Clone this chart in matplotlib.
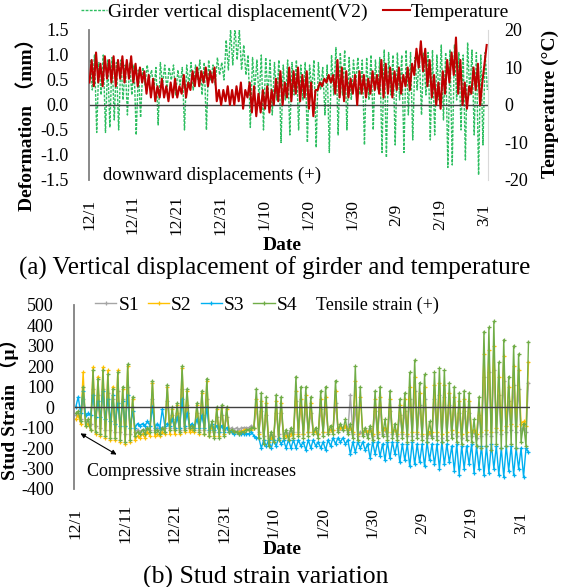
import numpy as np
import matplotlib
matplotlib.use("Agg")
import matplotlib.pyplot as plt

plt.rcParams['font.family'] = ['Liberation Serif', 'Noto Sans CJK SC']
plt.rcParams['axes.unicode_minus'] = False

# %%
# (a) girder displacement (mm) and temperature (degC), one high / one low per day, day 0 = 12/1
disp_high = [0.9, 1.0, 0.85, 1.0, 0.9, 0.95, 0.85, 0.9, 0.8, 0.85, 0.8,
             0.7, 0.75, 0.8, 0.7, 0.75, 0.85, 0.8, 0.75, 0.8, 0.7,
             0.75, 0.8, 0.85, 0.8, 0.9, 0.85, 0.9, 0.8, 0.95, 0.85,
             1.3, 1.5, 1.55, 1.5, 1.2, 1.0,
             0.95, 0.9, 1.0, 0.95, 0.9, 0.85, 0.9, 0.8, 0.9, 0.85, 0.9, 0.8, 0.85, 0.8,
             0.9, 0.85, 0.75, 0.8, 1.0, 1.15, 1.05, 1.1, 0.95, 0.9,
             0.95, 0.9, 0.95, 1.0, 0.9, 0.95, 1.1, 1.05, 1.0, 1.05,
             1.0, 1.1, 1.05, 0.95, 1.0, 1.05, 1.05, 1.1, 1.0, 1.2,
             1.05, 1.1, 1.2, 1.05, 1.0, 1.25, 1.1, 1.05, 1.0, 1.05]
disp_low = [0.3, -0.55, 0.2, -0.55, -0.45, -0.3, -0.5, 0.1, -0.2, 0.2, -0.6,
            -0.25, 0.4, 0.5, 0.3, -0.4, 0.4, 0.3, 0.5, 0.2, 0.4,
            -0.5, 0.4, 0.3, 0.5, 0.2, -0.5, 0.5, 0.4, 0.6, 0.5,
            0.7, 0.8, 0.9, 0.7, 0.6, -0.45,
            0.3, 0.1, -0.5, 0.2, -0.2, 0.1, -0.75, 0.1, -0.6, 0.2, -0.5, 0.1, -0.75, 0.3,
            -0.85, 0.3, -0.2, -0.95, 0.2, -0.6, 0.2, -0.5, 0.1, 0.4,
            0.2, -0.8, 0.1, -0.5, 0.3, -0.95, -1.05, 0.2, -0.8, 0.1,
            -0.95, -0.2, -0.7, 0.3, -0.2, 0.2, -0.7, -0.6, 0.1, -0.3,
            -1.25, -1.2, 0.1, -0.5, -1.1, 0.2, -0.6, -1.4, -0.8, 0.3]
temp_high = [12, 14, 11, 13, 12, 13, 12, 13, 12, 13, 11,
             10, 9, 8, 7, 5, 7, 5, 6, 7, 5,
             8, 6, 9, 10, 9, 10, 9, 10, 4, 4,
             5, 4, 5, 6, 4, 6,
             5, 3, 4, 5, 4, 7, 9, 6, 10, 9, 10, 8, 9, 6,
             4, 6, 7, 8, 8, 12, 10, 9, 7, 8,
             9, 8, 7, 9, 8, 12, 11, 10, 9, 10,
             8, 10, 11, 15, 17, 15, 12, 8, 6, 9,
             12, 14, 18, 12, 6, 5, 10, 11, 6, 16]
temp_low = [6, 5, 6, 5, 7, 6, 5, 7, 6, 7, 6,
            5, 6, 3, 2, 1, 2, 2, 1, 2, 2,
            3, 2, 4, 5, 5, 6, 5, 6, 1, 0,
            1, 0, 0, 1, -1, 2,
            -2, -3, -2, -1, -2, 0, 1, 0, 2, 1, 3, 1, 2, -1,
            -3, 4, 5, 6, 6, 3, 2, 1, 2, 3,
            0, 3, 2, 3, 4, 3, 2, 3, 2, 4,
            3, 5, 4, 8, 10, 9, 5, 2, 0, -1,
            3, 6, 8, 3, 0, -1, 3, 4, 0, 11]

# (b) stud strain, daily base value and daily spike value (με)
s1_base = [-40, -60, -70, -80, -90, -100, -110, -110, -120, -120, -130, -130, -120, -120, -110, -110,
           -110, -110, -100, -100, -100, -110, -100, -100, -100, -110, -110, -120, -120, -120, -110, -110,
           -110, -110, -100, -100, -100, -120, -140, -150, -140, -130, -130, -130, -120, -120, -130, -120,
           -120, -130, -120, -120, -110, -110, -110, -120, -130, -140, -130, -130, -140, -130, -130, -140,
           -130, -140, -130, -140, -140, -130, -140, -150, -140, -140, -150, -140, -130, -140, -150, -140,
           -140, -150, -140, -130, -140, -120, -130, -120, -110, -120, -110, -120]
s1_peak = [-30, 40, -60, 90, 60, 90, 70, 40, 80, 40, 100, 0, -110, -110, -100, 40,
           -100, -100, 30, -40, -30, 90, 10, -90, -30, 0, 40, -90, -50, -40, -50, -100,
           -100, -100, -100, -90, 0, -20, -40, -130, -30, -30, -120, -110, 30, 0, 0, -30,
           -110, -10, 0, -110, 20, -100, -90, 60, 0, -120, -110, -100, -20, 0, -110, -20,
           -110, -40, -20, 40, 80, 10, 40, -130, 40, 60, 50, 10, 0, -30, -20, -30,
           -120, -40, 150, 170, 180, 60, 130, 30, 110, 90, -100, 120]
s2_base = [-60, -80, -90, -110, -130, -140, -150, -160, -160, -170, -180, -170, -160, -150, -150, -140,
           -140, -140, -130, -130, -130, -130, -120, -120, -120, -130, -130, -140, -140, -140, -130, -120,
           -120, -120, -110, -110, -100, -130, -160, -170, -160, -150, -140, -140, -130, -130, -130, -120,
           -120, -130, -120, -120, -110, -100, -100, -110, -120, -130, -120, -120, -130, -120, -110, -120,
           -120, -130, -120, -130, -120, -120, -130, -130, -120, -120, -130, -120, -110, -120, -130, -120,
           -120, -130, -120, -110, -120, -100, -110, -90, -80, -90, -80, -90]
s2_peak = [-40, 170, -80, 195, 150, 195, 180, 100, 180, 90, 200, 40, -140, -130, -120, 120,
           -130, -120, 100, -10, 10, 190, 80, -110, 10, 70, 130, -90, -10, 0, -10, -120,
           -120, -120, -110, -110, 40, 30, 20, -150, 30, 20, -140, -130, 80, 40, 60, 20,
           -120, 40, 50, -110, 80, -100, -90, -100, 130, 50, -110, -110, 40, 50, -100, 40,
           -110, 10, 40, 100, 150, 70, 100, -120, 110, 120, 110, 70, 50, 30, 40, 30,
           -110, 0, 260, 280, 300, 150, 250, 100, 200, 180, -70, 220]
s3_base = [0, -30, -40, -40, -50, -50, -60, -70, -80, -90, -90, -100, -100, -90, -90, -90,
           -100, -100, -90, -90, -100, -100, -90, -90, -100, -100, -100, -110, -110, -120, -120, -120,
           -130, -130, -130, -130, -140, -150, -160, -160, -160, -150, -160, -160, -160, -160, -170, -160,
           -160, -170, -170, -160, -150, -150, -150, -160, -170, -170, -170, -180, -170, -170, -180, -170,
           -170, -170, -180, -180, -170, -180, -180, -170, -180, -180, -170, -180, -190, -180, -190, -190,
           -180, -190, -190, -190, -180, -190, -200, -190, -190, -200, -200, -200]
s3_peak = [50, 80, -30, 60, 30, 80, 40, 60, 20, 30, 60, -20, -80, -80, -70, 0,
           -80, -10, -80, -60, -50, 40, -30, -80, -60, -40, 0, -80, -90, -90, -100, -120,
           -120, -130, -130, -120, -150, -200, -190, -200, -190, -180, -200, -200, -200, -190, -210, -200,
           -190, -200, -210, -190, -180, -170, -180, -230, -220, -200, -210, -250, -230, -240, -260, -250,
           -230, -270, -260, -290, -280, -270, -290, -260, -280, -300, -280, -270, -310, -330, -300, -280,
           -320, -300, -330, -320, -300, -330, -340, -310, -330, -300, -340, -220]
s4_base = [-30, -70, -90, -110, -120, -130, -140, -150, -150, -160, -170, -160, -140, -130, -130, -120,
           -120, -130, -120, -110, -110, -120, -110, -100, -110, -120, -130, -140, -150, -150, -140, -120,
           -120, -130, -120, -110, -100, -150, -180, -190, -170, -160, -150, -160, -150, -140, -150, -140,
           -130, -150, -140, -130, -130, -120, -110, -130, -150, -160, -140, -150, -160, -150, -140, -160,
           -150, -160, -150, -170, -160, -150, -160, -170, -150, -160, -170, -160, -150, -170, -180, -160,
           -170, -190, -200, -190, -210, -180, -200, -190, -180, -200, -170, -190]
s4_peak = [-20, 100, -60, 180, 140, 180, 160, 90, 170, 100, 210, 50, -120, -110, -100, 130,
           -110, -100, 110, 0, 20, 200, 90, -90, 20, 80, 140, -70, 0, 10, 0, -110,
           -120, -120, -110, -100, 90, 70, 50, -120, 60, 50, -110, -100, 150, 100, 100, 50,
           -100, 80, 100, -90, 130, -80, -60, -80, 200, 100, -100, -90, 80, 100, -60, 80,
           -80, 40, 70, 170, 230, 120, 160, -70, 170, 190, 180, 120, 100, 70, 80, 70,
           -60, 50, 370, 390, 420, 220, 330, 150, 300, 260, -80, 320]

date_labels = ['12/1', '12/11', '12/21', '12/31', '1/10', '1/20', '1/30', '2/9', '2/19', '3/1']

# %%
fig = plt.figure(figsize=(5.67, 5.87), dpi=100)

# ---- (a) ----
ax1 = fig.add_axes([0.157, 0.6934, 0.7037, 0.2555])
days_a = np.arange(len(disp_high))
t_disp = np.column_stack([days_a + 0.25, days_a + 0.75]).ravel()
v_disp = np.column_stack([disp_high, disp_low]).ravel()
t_temp = np.column_stack([days_a + 0.1, days_a + 0.6]).ravel()
v_temp = np.column_stack([temp_low, temp_high]).ravel()

l_disp, = ax1.plot(t_disp, v_disp, color='#2DBE60', lw=1.0, ls=(0, (2, 1)))
ax1.axhline(0, color='#404040', lw=1.0)
ax1.set_xlim(0, 90.9)
ax1.set_ylim(-1.5, 1.5)
ax1.set_yticks(np.arange(-1.5, 1.51, 0.5))
ax1.set_yticklabels(['%.1f' % v for v in np.arange(-1.5, 1.51, 0.5)])

ax1b = ax1.twinx()
l_temp, = ax1b.plot(t_temp, v_temp, color='#C00000', lw=1.5)
ax1b.set_ylim(-20, 20)
ax1b.set_yticks([-20, -10, 0, 10, 20])

for a in (ax1, ax1b):
    for s in ('top', 'bottom', 'left', 'right'):
        a.spines[s].set_visible(False)
    a.tick_params(length=0, labelsize=13)
ax1.spines['left'].set_visible(True)
ax1.spines['left'].set_color('#808080')
ax1.spines['left'].set_linewidth(1.3)
ax1b.spines['right'].set_visible(True)
ax1b.spines['right'].set_color('#D9D9D9')
ax1.tick_params(axis='y', pad=14.5)
ax1b.tick_params(axis='y', pad=12)

ax1.set_xticks(range(0, 91, 10))
ax1.set_xticklabels(date_labels, rotation=90)
ax1.tick_params(axis='x', pad=25, labelsize=12.5)
for lab in ax1.get_xticklabels():
    lab.set_va('center')

fig.legend([l_disp, l_temp], ['Girder vertical displacement(V2)', 'Temperature'],
           loc='upper left', bbox_to_anchor=(78 / 567, 1.0), ncol=2, frameon=False,
           fontsize=14, handlelength=1.35, handletextpad=0.05, columnspacing=0.8,
           borderpad=0.15, borderaxespad=0)

fig.text(103 / 567, 1 - 175 / 587, 'downward displacements (+)', fontsize=13.5, va='center')
fig.text(27 / 567, 1 - 120 / 587, 'Deformation （mm）', rotation=90, fontsize=14,
         fontweight='bold', ha='center', va='center')
fig.text(550 / 567, 1 - 104 / 587, 'Temperature (°C)', rotation=90, fontsize=14,
         fontweight='bold', ha='center', va='center')
fig.text(282 / 567, 1 - 245 / 587, 'Date', fontsize=14, fontweight='bold', ha='center', va='center')
fig.text(275 / 567, 1 - 268 / 587, '(a) Vertical displacement of girder and temperature',
         fontsize=18, ha='center', va='center')

# ---- (b) ----
ax2 = fig.add_axes([0.1305, 0.167, 0.8042, 0.3135])
days_b = np.arange(len(s4_base))
t_b = np.column_stack([days_b, days_b + 0.5]).ravel()
series = [('S1', s1_base, s1_peak, '#A5A5A5'),
          ('S2', s2_base, s2_peak, '#FFC000'),
          ('S3', s3_base, s3_peak, '#00B0F0'),
          ('S4', s4_base, s4_peak, '#70AD47')]
handles = []
for name, base, peak, col in series:
    vals = np.column_stack([base, peak]).ravel()
    h, = ax2.plot(t_b, vals, color=col, lw=1.0, marker='+', ms=3, mew=0.9, label=name)
    handles.append(h)
ax2.axhline(0, color='#404040', lw=1.0)
ax2.set_xlim(-0.35, 91.8)
ax2.set_ylim(-400, 500)
ax2.set_yticks(range(-400, 501, 100))
for s in ('top', 'bottom', 'right'):
    ax2.spines[s].set_visible(False)
ax2.spines['left'].set_color('#808080')
ax2.spines['left'].set_linewidth(1.3)
ax2.tick_params(length=0, labelsize=13)
ax2.tick_params(axis='y', pad=14.5)
ax2.set_xticks(range(0, 91, 10))
ax2.set_xticklabels(date_labels, rotation=90)
ax2.tick_params(axis='x', pad=24.5, labelsize=12.5)
for lab in ax2.get_xticklabels():
    lab.set_va('center')

fig.legend(handles, ['S1', 'S2', 'S3', 'S4'], loc='center left',
           bbox_to_anchor=(95 / 567, 1 - 305 / 587), ncol=4, frameon=False, fontsize=14,
           handlelength=1.1, handletextpad=0.1, columnspacing=0.45,
           borderpad=0, borderaxespad=0)
fig.text(316 / 567, 1 - 305 / 587, 'Tensile strain (+)', fontsize=13, va='center')
fig.text(87 / 567, 1 - 471 / 587, 'Compressive strain increases', fontsize=13, va='center')
fig.add_artist(matplotlib.patches.FancyArrowPatch(
    (78 / 567, 1 - 432 / 587), (119 / 567, 1 - 456 / 587), transform=fig.transFigure,
    arrowstyle='<|-|>', mutation_scale=7, color='black', lw=0.8))
fig.text(9 / 567, 1 - 405 / 587, 'Stud Strain （μ）', rotation=90, fontsize=14,
         fontweight='bold', ha='center', va='center')
fig.text(282 / 567, 1 - 550 / 587, 'Date', fontsize=14, fontweight='bold', ha='center', va='center')
fig.text(266 / 567, 1 - 577 / 587, '(b) Stud strain variation', fontsize=18.5,
         ha='center', va='center')

fig.savefig('out.png', dpi=100)
